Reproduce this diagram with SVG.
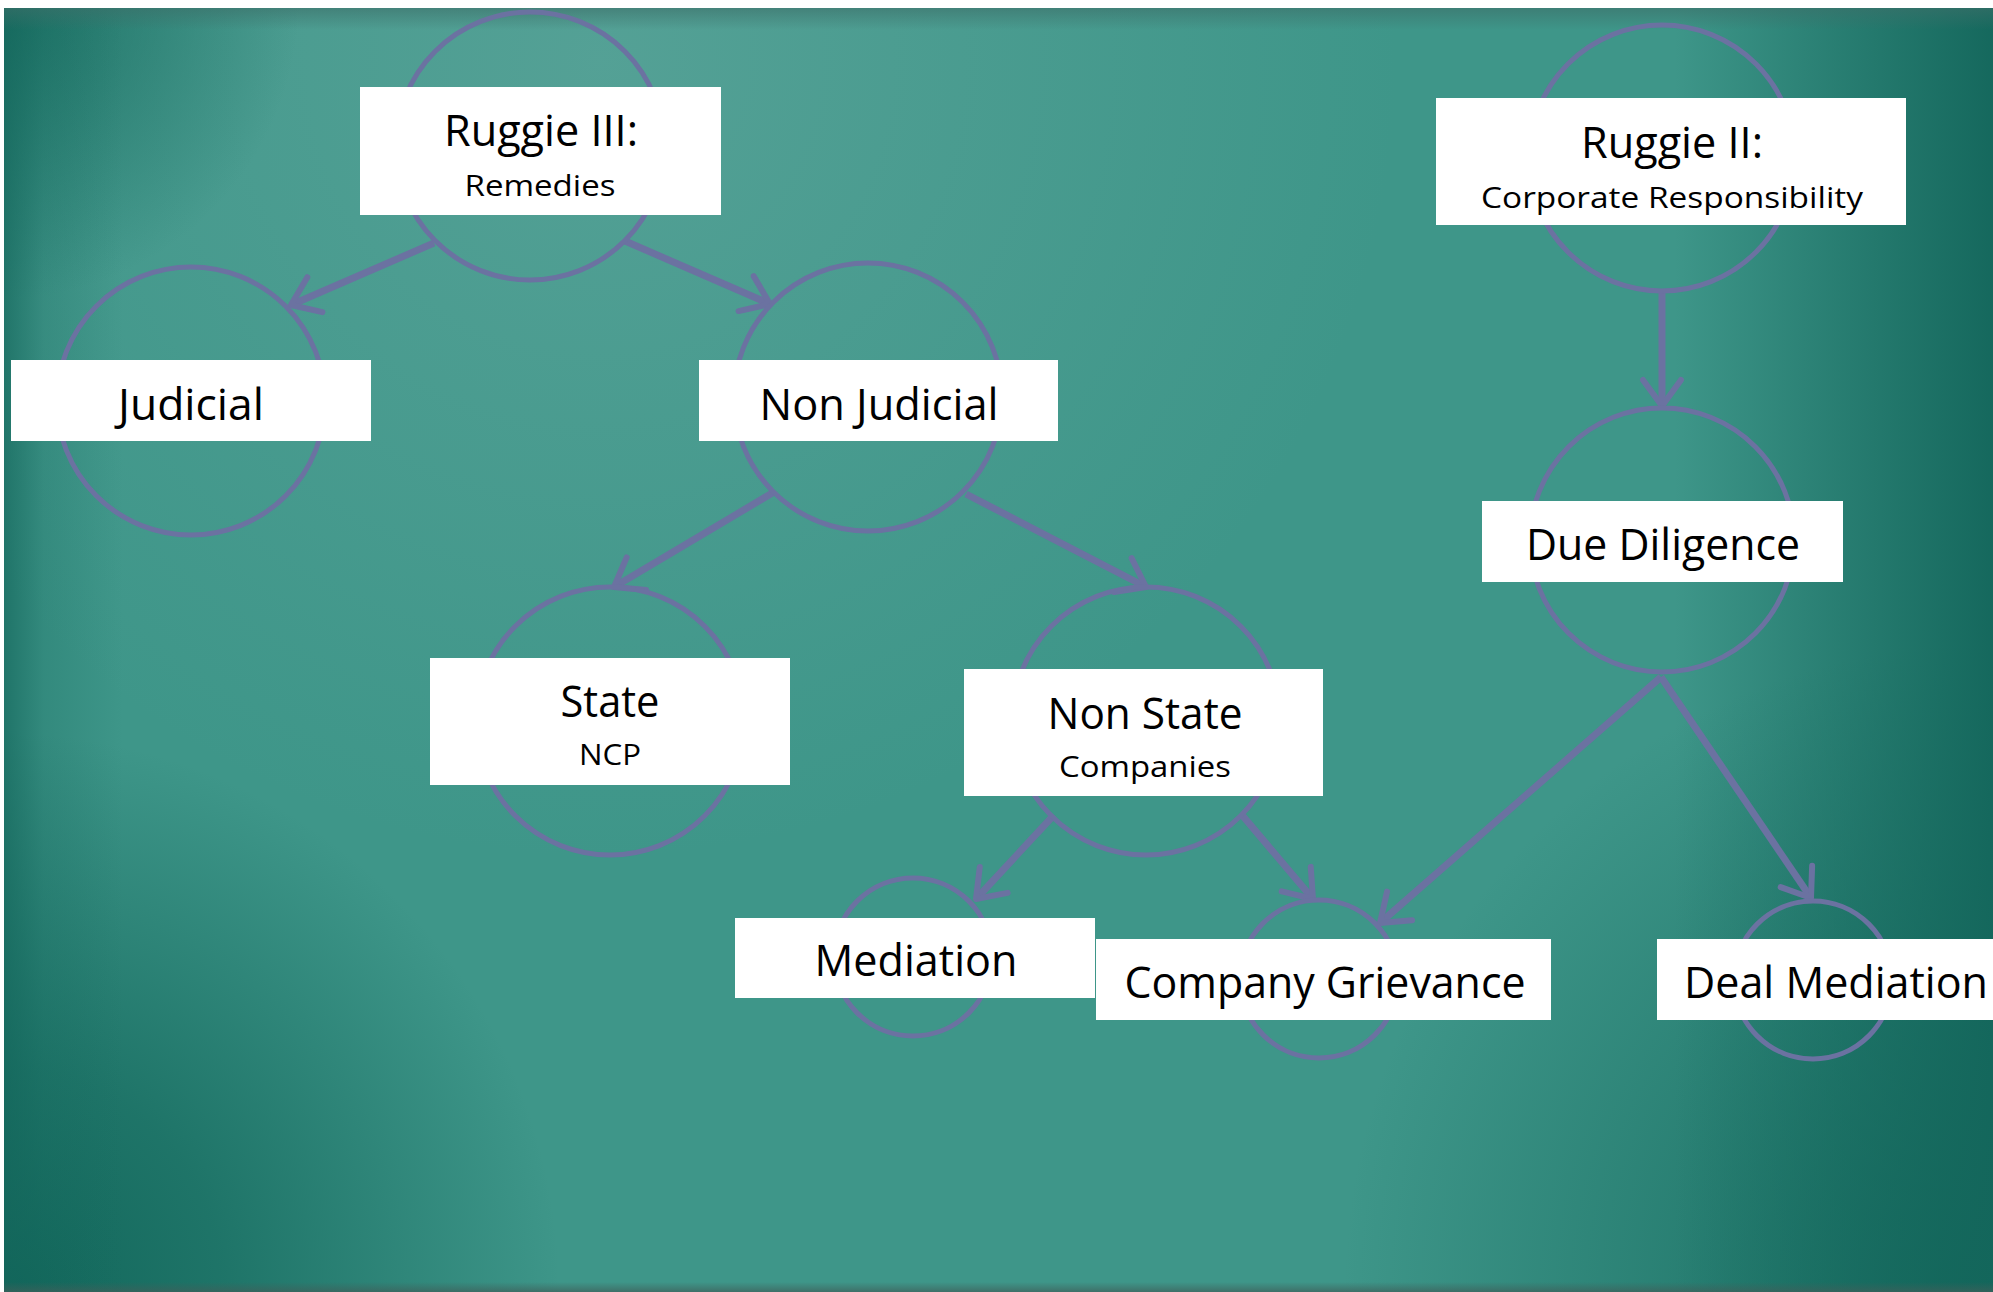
<svg xmlns="http://www.w3.org/2000/svg" width="1993" height="1292" viewBox="0 0 1993 1292">
<style>
.ring{fill:none;stroke:#6B72A1;stroke-width:5}
.box{fill:#FFFFFF}
.t{font-family:"Open Sans","Liberation Sans",sans-serif;fill:#000;text-anchor:middle}
.big{font-size:43px}
.small{font-size:29px}
.edge{fill:none;stroke:#6B72A1;stroke-width:7;marker-end:url(#arr)}
</style>
<defs>
<marker id="arr" markerUnits="userSpaceOnUse" orient="auto" refX="0" refY="0" markerWidth="60" markerHeight="60" viewBox="-40 -30 50 60" overflow="visible">
<path d="M -26 -19 L 0 0 L -26 19" fill="none" stroke="#6B72A1" stroke-width="6" stroke-linecap="round" stroke-linejoin="round"/>
</marker>
<linearGradient id="right" x1="0" y1="0" x2="1" y2="0">
<stop offset="0.84" stop-color="#13665B" stop-opacity="0"/>
<stop offset="0.93" stop-color="#13665B" stop-opacity="0.55"/>
<stop offset="1" stop-color="#13665B" stop-opacity="0.95"/>
</linearGradient>
<linearGradient id="left" x1="0" y1="0" x2="1" y2="0">
<stop offset="0" stop-color="#13665B" stop-opacity="0.7"/>
<stop offset="0.02" stop-color="#13665B" stop-opacity="0.25"/>
<stop offset="0.06" stop-color="#13665B" stop-opacity="0"/>
</linearGradient>
<radialGradient id="bl" gradientUnits="userSpaceOnUse" cx="0" cy="1292" r="560">
<stop offset="0" stop-color="#11665A" stop-opacity="1"/>
<stop offset="0.4" stop-color="#11665A" stop-opacity="0.7"/>
<stop offset="1" stop-color="#11665A" stop-opacity="0"/>
</radialGradient>
<radialGradient id="br" gradientUnits="userSpaceOnUse" cx="1993" cy="1292" r="650">
<stop offset="0" stop-color="#11665A" stop-opacity="0.9"/>
<stop offset="0.5" stop-color="#11665A" stop-opacity="0.45"/>
<stop offset="1" stop-color="#11665A" stop-opacity="0"/>
</radialGradient>
<radialGradient id="tl" gradientUnits="userSpaceOnUse" cx="0" cy="0" r="300">
<stop offset="0" stop-color="#11665A" stop-opacity="0.8"/>
<stop offset="1" stop-color="#11665A" stop-opacity="0"/>
</radialGradient>
<radialGradient id="toplight" gradientUnits="userSpaceOnUse" cx="600" cy="60" r="800">
<stop offset="0" stop-color="#6FAEA5" stop-opacity="0.45"/>
<stop offset="1" stop-color="#6FAEA5" stop-opacity="0"/>
</radialGradient>
<linearGradient id="topband" x1="0" y1="0" x2="0" y2="1">
<stop offset="0" stop-color="#3C6F69" stop-opacity="0.6"/>
<stop offset="1" stop-color="#3C6F69" stop-opacity="0"/>
</linearGradient>
<linearGradient id="bottom" x1="0" y1="0" x2="0" y2="1">
<stop offset="0" stop-color="#3F5F5A" stop-opacity="0"/>
<stop offset="1" stop-color="#3F5F5A" stop-opacity="0.7"/>
</linearGradient>
</defs>
<rect x="0" y="0" width="1993" height="1292" fill="#FFFFFF"/>
<g id="background">
<rect x="4" y="8" width="1989" height="1284" fill="#3E9689"/>
<rect x="4" y="8" width="1989" height="1284" fill="url(#toplight)"/>
<rect x="4" y="8" width="1989" height="1284" fill="url(#bl)"/>
<rect x="4" y="8" width="1989" height="1284" fill="url(#br)"/>
<rect x="4" y="8" width="1989" height="1284" fill="url(#tl)"/>
<rect x="4" y="8" width="1989" height="1284" fill="url(#right)"/>
<rect x="4" y="8" width="1989" height="1284" fill="url(#left)"/>
<rect x="4" y="8" width="1989" height="22" fill="url(#topband)"/>
<rect x="4" y="1282" width="1989" height="10" fill="url(#bottom)"/>
</g>
<g id="connectors">
<line class="edge" x1="434" y1="243" x2="291" y2="305"/>
<line class="edge" x1="625" y1="241" x2="770" y2="304"/>
<line class="edge" x1="774" y1="492" x2="614" y2="587"/>
<line class="edge" x1="966" y1="494" x2="1146" y2="587"/>
<line class="edge" x1="1054" y1="815" x2="976" y2="899"/>
<line class="edge" x1="1242" y1="815" x2="1313" y2="899"/>
<line class="edge" x1="1662" y1="291" x2="1662" y2="406"/>
<line class="edge" x1="1661" y1="677" x2="1380" y2="923"/>
<line class="edge" x1="1661" y1="677" x2="1811" y2="898"/>
</g>
<g id="ruggie3">
<circle class="ring" cx="530" cy="146" r="134"/>
<rect class="box" x="360" y="87" width="361" height="128"/>
<text class="t big" x="541" y="146" textLength="194" lengthAdjust="spacingAndGlyphs">Ruggie III:</text>
<text class="t small" x="540" y="196" textLength="151" lengthAdjust="spacingAndGlyphs">Remedies</text>
</g>
<g id="judicial">
<circle class="ring" cx="191" cy="401" r="134"/>
<rect class="box" x="11" y="360" width="360" height="81"/>
<text class="t big" x="191" y="420" textLength="146" lengthAdjust="spacingAndGlyphs">Judicial</text>
</g>
<g id="nonjudicial">
<circle class="ring" cx="868" cy="397" r="134"/>
<rect class="box" x="699" y="360" width="359" height="81"/>
<text class="t big" x="879" y="420" textLength="239" lengthAdjust="spacingAndGlyphs">Non Judicial</text>
</g>
<g id="state">
<circle class="ring" cx="610" cy="721" r="134"/>
<rect class="box" x="430" y="658" width="360" height="127"/>
<text class="t big" x="610" y="717" textLength="99" lengthAdjust="spacingAndGlyphs">State</text>
<text class="t small" x="610" y="765" textLength="62" lengthAdjust="spacingAndGlyphs">NCP</text>
</g>
<g id="nonstate">
<circle class="ring" cx="1146" cy="721" r="134"/>
<rect class="box" x="964" y="669" width="359" height="127"/>
<text class="t big" x="1145" y="729" textLength="195" lengthAdjust="spacingAndGlyphs">Non State</text>
<text class="t small" x="1145" y="777" textLength="172" lengthAdjust="spacingAndGlyphs">Companies</text>
</g>
<g id="mediation">
<circle class="ring" cx="913" cy="957" r="79"/>
<rect class="box" x="735" y="918" width="360" height="80"/>
<text class="t big" x="916" y="976" textLength="203" lengthAdjust="spacingAndGlyphs">Mediation</text>
</g>
<g id="companygrievance">
<circle class="ring" cx="1319" cy="979" r="79"/>
<rect class="box" x="1096" y="939" width="455" height="81"/>
<text class="t big" x="1325" y="998" textLength="401" lengthAdjust="spacingAndGlyphs">Company Grievance</text>
</g>
<g id="dealmediation">
<circle class="ring" cx="1813" cy="980" r="79"/>
<rect class="box" x="1657" y="939" width="340" height="81"/>
<text class="t big" x="1836" y="998" textLength="304" lengthAdjust="spacingAndGlyphs">Deal Mediation</text>
</g>
<g id="ruggie2">
<circle class="ring" cx="1662" cy="158" r="133"/>
<rect class="box" x="1436" y="98" width="470" height="127"/>
<text class="t big" x="1672" y="158" textLength="182" lengthAdjust="spacingAndGlyphs">Ruggie II:</text>
<text class="t small" x="1672" y="208" textLength="382" lengthAdjust="spacingAndGlyphs">Corporate Responsibility</text>
</g>
<g id="duediligence">
<circle class="ring" cx="1662" cy="540" r="132"/>
<rect class="box" x="1482" y="501" width="361" height="81"/>
<text class="t big" x="1663" y="560" textLength="274" lengthAdjust="spacingAndGlyphs">Due Diligence</text>
</g>
</svg>
